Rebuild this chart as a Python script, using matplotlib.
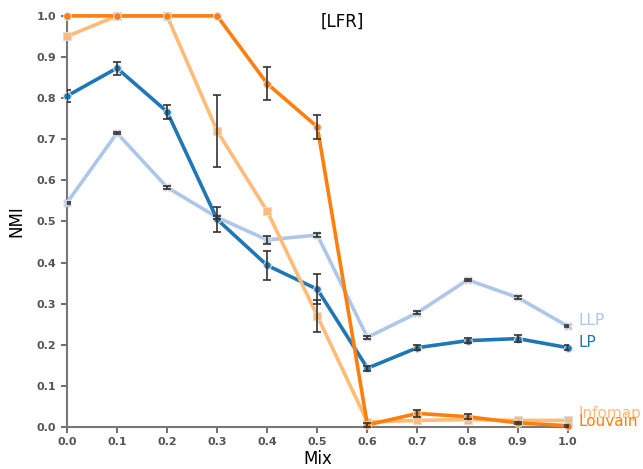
import matplotlib.pyplot as plt

# Dados
mix = [0.0, 0.1, 0.2, 0.3, 0.4, 0.5, 0.6, 0.7, 0.8, 0.9, 1.0]

louvain = [1.0, 1.0, 1.0, 1.0, 0.835, 0.73, 0.005, 0.033, 0.025, 0.01, 0.003]
louvain_err = [0, 0, 0, 0, 0.04, 0.03, 0.004, 0.008, 0.006, 0.003, 0.002]

infomap = [0.95, 1.0, 1.0, 0.72, 0.525, 0.27, 0.012, 0.016, 0.018, 0.016, 0.016]
infomap_err = [0, 0, 0, 0.087, 0, 0.04, 0, 0, 0, 0, 0]

lp = [0.805, 0.873, 0.767, 0.505, 0.393, 0.335, 0.143, 0.193, 0.21, 0.215, 0.193]
lp_err = [0.015, 0.016, 0.017, 0.03, 0.035, 0.036, 0.006, 0.006, 0.006, 0.008, 0.006]

llp = [0.545, 0.715, 0.583, 0.51, 0.455, 0.467, 0.218, 0.278, 0.358, 0.315, 0.245]
llp_err = [0.003, 0.003, 0.003, 0.003, 0.01, 0.004, 0.004, 0.003, 0.003, 0.003, 0.003]

series = [
    ('LLP', llp, llp_err, '#aec7e8', 'X', 0.26),
    ('LP', lp, lp_err, '#1f77b4', 'o', 0.205),
    ('Infomap', infomap, infomap_err, '#ffbb78', 's', 0.032),
    ('Louvain', louvain, louvain_err, '#ff7f0e', 'o', 0.013),
]

fig = plt.figure(figsize=(6.43, 4.69), dpi=100)
ax = fig.add_axes([0.104, 0.0896, 0.779, 0.8765])

for nome, y, err, cor, mk, ylab in series:
    ax.plot(mix, y, color=cor, lw=2.6, marker=mk, ms=5.5,
            markeredgecolor='#dddddd', markeredgewidth=0.8, zorder=3,
            clip_on=False)
    # so desenha as barras de erro que existem
    xe = [x for x, e in zip(mix, err) if e > 0]
    ye = [v for v, e in zip(y, err) if e > 0]
    ee = [e for e in err if e > 0]
    ax.errorbar(xe, ye, yerr=ee, fmt='none', ecolor='#333333',
                elinewidth=1.2, capsize=3, capthick=1.2, zorder=4)
    ax.text(1.022, ylab, nome, color=cor, fontsize=11, va='center',
            clip_on=False)

ax.set_xlim(0, 1.0)
ax.set_ylim(0, 1.0)
ax.set_xticks(mix)
ax.set_xticklabels(['%.1f' % v for v in mix])
ax.set_yticks([i / 10 for i in range(11)])
ax.set_yticklabels(['%.1f' % (i / 10) for i in range(11)])
ax.tick_params(labelsize=8, colors='#555555', length=4, width=1.2)
for lbl in ax.get_xticklabels() + ax.get_yticklabels():
    lbl.set_fontweight('bold')

for s in ['top', 'right']:
    ax.spines[s].set_visible(False)
for s in ['left', 'bottom']:
    ax.spines[s].set_color('#777777')
    ax.spines[s].set_linewidth(1.5)

ax.set_xlabel('Mix', fontsize=12, labelpad=2)
ax.set_ylabel('NMI', fontsize=12, labelpad=8)
ax.text(0.55, 0.985, '[LFR]', fontsize=12, ha='center', va='center')

fig.savefig('out.png', dpi=100)
